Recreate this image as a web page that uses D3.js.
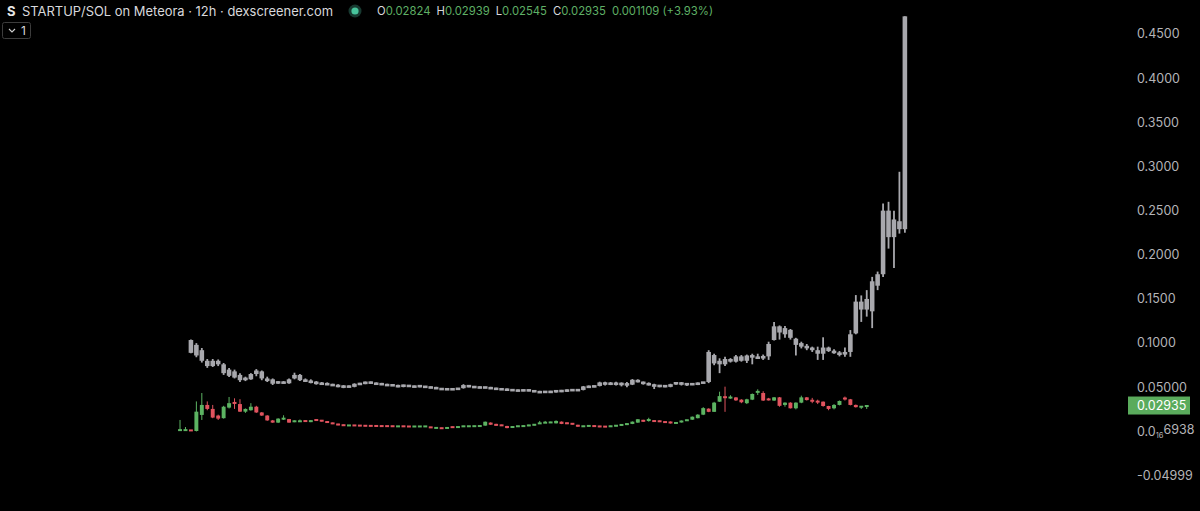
<!DOCTYPE html>
<html><head><meta charset="utf-8">
<script src="https://cdn.jsdelivr.net/npm/d3@7/dist/d3.min.js"></script>
<style>html,body{margin:0;padding:0;background:#000;}svg{display:block;}</style>
</head><body>
<svg id="chart" width="1200" height="511"></svg>
<script>
// ---------- DATA ----------
const title = "STARTUP/SOL on Meteora · 12h · dexscreener.com";
const ohlcLabels = ["O", "H", "L", "C"];
const ohlcValues = ["0.02824", "0.02939", "0.02545", "0.02935"];
const changeText = "0.001109 (+3.93%)";
const lastPrice = 0.02935;
const lastPriceLabel = "0.02935";
const tickValues = [0.45, 0.40, 0.35, 0.30, 0.25, 0.20, 0.15, 0.10, 0.05, 0, -0.04999];
const tickLabels = ["0.4500", "0.4000", "0.3500", "0.3000", "0.2500", "0.2000", "0.1500", "0.1000", "0.05000", ["0.0", "16", "6938"], "-0.04999"];
const periodCount = 134;

// main series: [open, high, low, close], 12h candles
const mainCandles = [
 [0.0010,0.0130,0.0005,0.0020],[0.0010,0.0050,0.0008,0.0020],[0.0015,0.0018,0.0005,0.0008],[0.0005,0.0340,0.0000,0.0224],
 [0.0187,0.0435,0.0130,0.0300],[0.0300,0.0340,0.0240,0.0255],[0.0255,0.0300,0.0150,0.0157],[0.0180,0.0190,0.0130,0.0145],
 [0.0150,0.0290,0.0145,0.0280],[0.0270,0.0390,0.0260,0.0320],[0.0325,0.0375,0.0255,0.0320],[0.0310,0.0365,0.0220,0.0224],
 [0.0224,0.0260,0.0210,0.0255],[0.0240,0.0320,0.0235,0.0280],[0.0280,0.0290,0.0210,0.0215],[0.0215,0.0220,0.0175,0.0180],
 [0.0180,0.0185,0.0120,0.0125],[0.0125,0.0130,0.0098,0.0100],[0.0100,0.0150,0.0095,0.0145],[0.0143,0.0183,0.0130,0.0146],
 [0.0140,0.0142,0.0098,0.0100],[0.0110,0.0125,0.0105,0.0120],[0.0110,0.0135,0.0108,0.0120],[0.0120,0.0124,0.0112,0.0115],
 [0.0108,0.0128,0.0105,0.0125],[0.0132,0.0136,0.0124,0.0126],[0.0128,0.0130,0.0112,0.0115],[0.0115,0.0117,0.0096,0.0098],
 [0.0098,0.0100,0.0083,0.0085],[0.0085,0.0087,0.0070,0.0072],[0.0075,0.0077,0.0064,0.0066],[0.0066,0.0072,0.0064,0.0070],
 [0.0070,0.0072,0.0064,0.0066],[0.0068,0.0072,0.0060,0.0064],[0.0066,0.0068,0.0060,0.0062],[0.0065,0.0067,0.0059,0.0061],
 [0.0064,0.0066,0.0058,0.0060],[0.0063,0.0065,0.0056,0.0058],[0.0062,0.0064,0.0056,0.0058],[0.0061,0.0063,0.0055,0.0057],
 [0.0055,0.0062,0.0053,0.0060],[0.0060,0.0062,0.0054,0.0056],[0.0058,0.0060,0.0052,0.0054],[0.0054,0.0060,0.0052,0.0058],
 [0.0055,0.0060,0.0053,0.0058],[0.0055,0.0061,0.0053,0.0059],[0.0050,0.0052,0.0040,0.0042],[0.0038,0.0044,0.0036,0.0042],
 [0.0040,0.0042,0.0031,0.0033],[0.0036,0.0045,0.0034,0.0043],[0.0052,0.0054,0.0043,0.0045],[0.0045,0.0056,0.0043,0.0054],
 [0.0055,0.0063,0.0053,0.0061],[0.0056,0.0063,0.0054,0.0061],[0.0057,0.0064,0.0055,0.0062],[0.0058,0.0066,0.0056,0.0064],
 [0.0066,0.0112,0.0064,0.0110],[0.0100,0.0103,0.0074,0.0076],[0.0085,0.0087,0.0062,0.0064],[0.0074,0.0076,0.0062,0.0064],
 [0.0062,0.0064,0.0036,0.0038],[0.0045,0.0057,0.0043,0.0055],[0.0055,0.0064,0.0053,0.0062],[0.0055,0.0068,0.0053,0.0066],
 [0.0062,0.0076,0.0060,0.0074],[0.0070,0.0083,0.0068,0.0081],[0.0090,0.0119,0.0088,0.0093],[0.0098,0.0119,0.0096,0.0100],
 [0.0101,0.0110,0.0099,0.0103],[0.0092,0.0125,0.0090,0.0119],[0.0111,0.0113,0.0083,0.0085],[0.0100,0.0102,0.0083,0.0085],
 [0.0092,0.0094,0.0079,0.0081],[0.0074,0.0076,0.0053,0.0055],[0.0055,0.0064,0.0053,0.0062],[0.0059,0.0068,0.0057,0.0066],
 [0.0066,0.0068,0.0053,0.0055],[0.0062,0.0064,0.0049,0.0051],[0.0058,0.0060,0.0049,0.0051],[0.0055,0.0064,0.0053,0.0062],
 [0.0059,0.0072,0.0057,0.0070],[0.0066,0.0083,0.0064,0.0081],[0.0074,0.0094,0.0072,0.0092],[0.0085,0.0113,0.0083,0.0111],
 [0.0100,0.0140,0.0098,0.0138],[0.0130,0.0132,0.0109,0.0111],[0.0128,0.0155,0.0111,0.0130],[0.0125,0.0127,0.0108,0.0110],
 [0.0122,0.0124,0.0106,0.0108],[0.0112,0.0114,0.0098,0.0100],[0.0111,0.0113,0.0090,0.0092],[0.0092,0.0102,0.0090,0.0100],
 [0.0103,0.0124,0.0101,0.0122],[0.0120,0.0135,0.0118,0.0133],[0.0133,0.0169,0.0131,0.0167],[0.0150,0.0195,0.0148,0.0190],
 [0.0190,0.0275,0.0185,0.0264],[0.0258,0.0262,0.0218,0.0222],[0.0222,0.0335,0.0220,0.0326],[0.0337,0.0450,0.0335,0.0400],
 [0.0390,0.0507,0.0222,0.0385],[0.0375,0.0410,0.0370,0.0392],[0.0385,0.0390,0.0345,0.0352],[0.0360,0.0365,0.0320,0.0330],
 [0.0320,0.0370,0.0310,0.0364],[0.0360,0.0430,0.0355,0.0424],[0.0445,0.0477,0.0413,0.0451],[0.0435,0.0455,0.0345,0.0350],
 [0.0365,0.0380,0.0350,0.0360],[0.0350,0.0390,0.0345,0.0386],[0.0386,0.0390,0.0280,0.0290],[0.0300,0.0330,0.0280,0.0326],
 [0.0326,0.0330,0.0260,0.0262],[0.0262,0.0330,0.0250,0.0326],[0.0326,0.0405,0.0320,0.0386],[0.0386,0.0390,0.0350,0.0355],
 [0.0350,0.0380,0.0320,0.0345],[0.0340,0.0360,0.0310,0.0335],[0.0337,0.0340,0.0280,0.0288],[0.0288,0.0290,0.0240,0.0255],
 [0.0262,0.0310,0.0250,0.0300],[0.0300,0.0350,0.0295,0.0345],[0.0375,0.0395,0.0350,0.0370],[0.0364,0.0368,0.0295,0.0300],
 [0.0300,0.0305,0.0270,0.0275],[0.0278,0.0287,0.0255,0.0282],[0.02824,0.02939,0.02545,0.02935]
];

// overlay (grey) series: [open, high, low, close]
const greyBars = [
 null, null,
 [0.1035,0.1040,0.0885,0.0890],[0.0980,0.1000,0.0840,0.0860],[0.0920,0.0945,0.0780,0.0800],[0.0800,0.0820,0.0720,0.0740],
 [0.0740,0.0820,0.0730,0.0800],[0.0800,0.0815,0.0740,0.0760],[0.0760,0.0775,0.0640,0.0660],[0.0700,0.0718,0.0616,0.0630],
 [0.0680,0.0700,0.0600,0.0610],[0.0640,0.0660,0.0560,0.0580],[0.0600,0.0620,0.0570,0.0590],[0.0590,0.0660,0.0585,0.0650],
 [0.0650,0.0706,0.0625,0.0690],[0.0680,0.0690,0.0580,0.0600],[0.0600,0.0620,0.0560,0.0570],[0.0590,0.0600,0.0526,0.0540],
 [0.0550,0.0570,0.0540,0.0560],[0.0560,0.0570,0.0540,0.0545],[0.0545,0.0600,0.0540,0.0590],[0.0600,0.0665,0.0590,0.0640],
 [0.0640,0.0650,0.0570,0.0580],[0.0580,0.0600,0.0560,0.0570],[0.0570,0.0590,0.0545,0.0555],[0.0560,0.0570,0.0530,0.0540],
 [0.0545,0.0560,0.0526,0.0535],[0.0540,0.0555,0.0525,0.0530],[0.0530,0.0540,0.0515,0.0520],[0.0525,0.0535,0.0500,0.0505],
 [0.0505,0.0525,0.0490,0.0510],[0.0510,0.0520,0.0500,0.0505],[0.0505,0.0545,0.0500,0.0540],[0.0540,0.0550,0.0530,0.0535],
 [0.0540,0.0565,0.0535,0.0560],[0.0560,0.0565,0.0540,0.0545],[0.0545,0.0555,0.0530,0.0535],[0.0540,0.0550,0.0525,0.0530],
 [0.0530,0.0540,0.0515,0.0520],[0.0525,0.0535,0.0515,0.0520],[0.0520,0.0530,0.0500,0.0505],[0.0510,0.0530,0.0500,0.0525],
 [0.0520,0.0525,0.0505,0.0510],[0.0510,0.0520,0.0500,0.0505],[0.0510,0.0520,0.0500,0.0515],[0.0510,0.0515,0.0495,0.0500],
 [0.0500,0.0510,0.0490,0.0495],[0.0495,0.0505,0.0480,0.0485],[0.0485,0.0490,0.0470,0.0475],[0.0480,0.0490,0.0470,0.0475],
 [0.0475,0.0485,0.0470,0.0480],[0.0480,0.0490,0.0475,0.0485],[0.0490,0.0535,0.0485,0.0525],[0.0520,0.0525,0.0500,0.0505],
 [0.0505,0.0515,0.0495,0.0500],[0.0500,0.0510,0.0490,0.0495],[0.0500,0.0505,0.0490,0.0495],[0.0495,0.0505,0.0480,0.0485],
 [0.0485,0.0495,0.0475,0.0480],[0.0480,0.0490,0.0470,0.0475],[0.0475,0.0485,0.0465,0.0470],[0.0470,0.0480,0.0460,0.0465],
 [0.0465,0.0475,0.0455,0.0460],[0.0460,0.0475,0.0455,0.0470],[0.0470,0.0475,0.0455,0.0460],[0.0460,0.0465,0.0445,0.0450],
 [0.0450,0.0460,0.0435,0.0440],[0.0445,0.0455,0.0435,0.0450],[0.0450,0.0460,0.0440,0.0445],[0.0445,0.0470,0.0440,0.0465],
 [0.0465,0.0470,0.0445,0.0450],[0.0455,0.0475,0.0450,0.0470],[0.0470,0.0475,0.0460,0.0465],[0.0465,0.0475,0.0458,0.0470],
 [0.0470,0.0515,0.0465,0.0510],[0.0510,0.0520,0.0495,0.0500],[0.0505,0.0520,0.0500,0.0515],[0.0515,0.0563,0.0510,0.0555],
 [0.0555,0.0563,0.0520,0.0530],[0.0530,0.0560,0.0525,0.0550],[0.0550,0.0563,0.0520,0.0530],[0.0530,0.0555,0.0510,0.0545],
 [0.0545,0.0560,0.0500,0.0520],[0.0530,0.0593,0.0525,0.0585],[0.0580,0.0590,0.0555,0.0560],[0.0560,0.0565,0.0530,0.0540],
 [0.0540,0.0555,0.0520,0.0530],[0.0530,0.0540,0.0480,0.0510],[0.0510,0.0525,0.0500,0.0520],[0.0520,0.0525,0.0500,0.0505],
 [0.0505,0.0540,0.0500,0.0535],[0.0535,0.0560,0.0530,0.0555],[0.0555,0.0560,0.0520,0.0530],[0.0530,0.0545,0.0515,0.0540],
 [0.0540,0.0545,0.0525,0.0530],[0.0530,0.0555,0.0525,0.0550],[0.0550,0.0560,0.0545,0.0555],[0.0560,0.0920,0.0547,0.0900],
 [0.0865,0.0880,0.0750,0.0770],[0.0800,0.0828,0.0660,0.0760],[0.0760,0.0845,0.0740,0.0820],[0.0820,0.0830,0.0780,0.0790],
 [0.0790,0.0865,0.0780,0.0850],[0.0850,0.0865,0.0790,0.0800],[0.0800,0.0870,0.0775,0.0860],[0.0860,0.0880,0.0760,0.0840],
 [0.0840,0.0880,0.0820,0.0830],[0.0830,0.0870,0.0810,0.0850],[0.0850,0.1016,0.0810,0.0990],[0.1035,0.1240,0.1030,0.1190],
 [0.1190,0.1200,0.1040,0.1120],[0.1100,0.1195,0.1060,0.1170],[0.1150,0.1160,0.1040,0.1060],[0.1050,0.1060,0.0860,0.0980],
 [0.1000,0.1016,0.0940,0.0960],[0.0960,0.0990,0.0920,0.0950],[0.0950,0.0960,0.0900,0.0920],[0.0920,0.0960,0.0810,0.0880],
 [0.0880,0.1066,0.0810,0.0950],[0.0950,0.0960,0.0900,0.0910],[0.0910,0.0930,0.0880,0.0890],[0.0890,0.0910,0.0850,0.0870],
 [0.0870,0.0950,0.0845,0.0900],[0.0900,0.1148,0.0845,0.1100],[0.1110,0.1544,0.1100,0.1470],[0.1470,0.1540,0.1240,0.1380],
 [0.1380,0.1600,0.1300,0.1500],[0.1360,0.1750,0.1170,0.1700],[0.1650,0.1810,0.1600,0.1780],[0.1780,0.2580,0.1750,0.2500],
 [0.2500,0.2600,0.2070,0.2200],[0.2200,0.2500,0.1850,0.2400],[0.2290,0.2940,0.2240,0.2380],[0.2290,0.4700,0.2250,0.4700]
];

// ---------- STYLE ----------
const UP = "#5cb362", DOWN = "#e0535e", GREY = "#a8a8ad";
const FONT = "Inter, 'Open Sans', sans-serif";

const svg = d3.select("#chart");
svg.append("rect").attr("width", 1200).attr("height", 511).attr("fill", "#000");

const x = d3.scaleBand().domain(d3.range(periodCount)).range([177.3, 907.6]).padding(0);
const y = d3.scaleLinear().domain([-0.05, 0.45]).range([475.6, 34]);
const step = x.step();
const cx = i => x(i) + step / 2;

// grey overlay bars
const gGrey = svg.append("g");
const greyData = greyBars.map((d, i) => d && { i, o: d[0], h: d[1], l: d[2], c: d[3] }).filter(Boolean);
gGrey.selectAll("line").data(greyData).join("line")
  .attr("x1", d => cx(d.i)).attr("x2", d => cx(d.i))
  .attr("y1", d => y(d.h)).attr("y2", d => y(d.l))
  .attr("stroke", GREY).attr("stroke-width", 1.8);
gGrey.selectAll("rect").data(greyData).join("rect")
  .attr("x", d => cx(d.i) - step * 0.42).attr("width", step * 0.84)
  .attr("y", d => Math.min(y(Math.max(d.o, d.c)), (y(d.o) + y(d.c)) / 2 - 1.3))
  .attr("height", d => Math.max(2.6, Math.abs(y(d.o) - y(d.c))))
  .attr("fill", GREY);

// main candles
const gMain = svg.append("g");
const mainData = mainCandles.map((d, i) => ({ i, o: d[0], h: d[1], l: d[2], c: d[3] }));
gMain.selectAll("line").data(mainData).join("line")
  .attr("x1", d => cx(d.i)).attr("x2", d => cx(d.i))
  .attr("y1", d => y(d.h)).attr("y2", d => y(d.l))
  .attr("stroke", d => d.c >= d.o ? UP : DOWN).attr("stroke-width", 1);
gMain.selectAll("rect").data(mainData).join("rect")
  .attr("x", d => cx(d.i) - step * 0.36).attr("width", step * 0.72)
  .attr("y", d => Math.min(y(Math.max(d.o, d.c)), (y(d.o) + y(d.c)) / 2 - 1))
  .attr("height", d => Math.max(2, Math.abs(y(d.o) - y(d.c))))
  .attr("fill", d => d.c >= d.o ? UP : DOWN);

// y axis labels
const axisG = svg.append("g").attr("font-family", FONT).attr("font-size", 12.5).attr("fill", "#b4b4b8");
tickValues.forEach((v, k) => {
  const lab = tickLabels[k];
  const t = axisG.append("text").attr("x", 1137).attr("y", y(v)).attr("dy", "0.35em");
  if (Array.isArray(lab)) {
    t.append("tspan").text(lab[0]);
    t.append("tspan").attr("font-size", 7.5).attr("dy", "0.3em").text(lab[1]);
    t.append("tspan").attr("dy", "-0.3em").text(lab[2]);
  } else t.text(lab);
});

// last price label
svg.append("rect").attr("x", 1128).attr("y", y(lastPrice) - 9).attr("width", 62).attr("height", 18)
  .attr("fill", "#5aab5c");
svg.append("text").attr("x", 1137).attr("y", y(lastPrice)).attr("dy", "0.35em")
  .attr("font-family", FONT).attr("font-size", 12.5).attr("fill", "#fff").text(lastPriceLabel);

// header
const hdr = svg.append("g").attr("font-family", FONT);
hdr.append("text").attr("x", 7).attr("y", 16).attr("font-size", 13).attr("font-weight", 700).attr("fill", "#e6e6e6").text("S");
hdr.append("text").attr("x", 22).attr("y", 16).attr("font-size", 13).attr("fill", "#d8d8dc")
  .attr("textLength", 311).attr("lengthAdjust", "spacingAndGlyphs").text(title);
hdr.append("circle").attr("cx", 355).attr("cy", 11).attr("r", 6.5).attr("fill", "#183a31");
hdr.append("circle").attr("cx", 355).attr("cy", 11).attr("r", 3.6).attr("fill", "#48c49c");
const vals = hdr.append("text").attr("x", 377).attr("y", 15).attr("font-size", 11.3);
ohlcLabels.forEach((l, k) => {
  vals.append("tspan").attr("dx", k ? 6 : 0).attr("fill", "#d8d8dc").text(l);
  vals.append("tspan").attr("fill", "#5fb066").text(ohlcValues[k]);
});
vals.append("tspan").attr("dx", 6).attr("fill", "#5fb066").text(changeText);

// collapse box
hdr.append("rect").attr("x", 2.5).attr("y", 22.5).attr("width", 28).attr("height", 16).attr("rx", 2)
  .attr("fill", "none").attr("stroke", "#3c3c3c");
hdr.append("path").attr("d", "M9,29 L12,32 L15,29").attr("fill", "none").attr("stroke", "#cfcfcf").attr("stroke-width", 1.1);
hdr.append("text").attr("x", 21).attr("y", 35).attr("font-size", 12).attr("fill", "#d8d8dc").text("1");
</script>
</body></html>
